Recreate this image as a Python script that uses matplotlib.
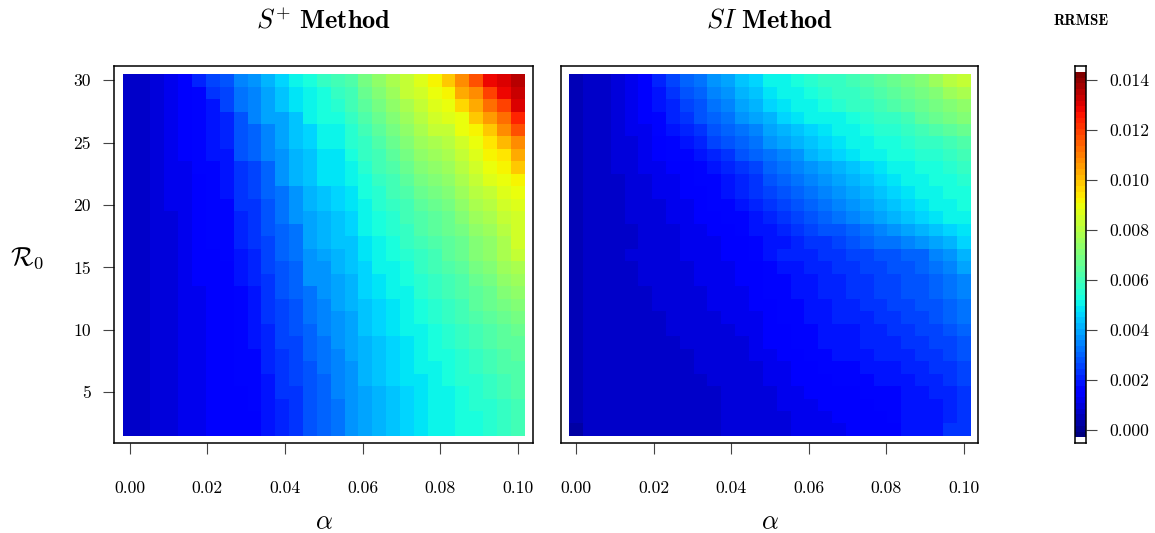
"""
RRMSE heat maps for the S+ and SI methods over (alpha, R0),
with a shared jet colour bar on the right.
"""

import numpy as np
import matplotlib
matplotlib.use('Agg')
import matplotlib.pyplot as plt
from matplotlib.colors import Normalize

plt.rcParams['mathtext.fontset'] = 'cm'
plt.rcParams['font.family'] = 'cmr10'
plt.rcParams['axes.formatter.use_mathtext'] = True

# grid
alpha = [0.0000, 0.0036, 0.0071, 0.0107, 0.0143, 0.0179, 0.0214, 0.0250,
         0.0286, 0.0321, 0.0357, 0.0393, 0.0429, 0.0464, 0.0500, 0.0536,
         0.0571, 0.0607, 0.0643, 0.0679, 0.0714, 0.0750, 0.0786, 0.0821,
         0.0857, 0.0893, 0.0929, 0.0964, 0.1000]
r0 = list(range(30, 1, -1))          # rows below go from R0 = 30 down to R0 = 2

# RRMSE x 1e4, S+ method (one row per R0, one column per alpha)
rrmse_splus = [
    [7, 7, 10, 12, 14, 21, 25, 28, 35, 37, 41, 46, 51, 53, 57, 60, 62, 69, 73, 78, 83, 87, 92, 98, 108, 117, 128, 130, 135],
    [7, 7, 10, 12, 14, 16, 23, 25, 32, 35, 39, 44, 48, 51, 53, 57, 60, 67, 71, 76, 83, 85, 89, 92, 103, 108, 119, 128, 133],
    [7, 7, 10, 12, 14, 16, 19, 25, 32, 35, 39, 44, 48, 51, 53, 55, 60, 64, 69, 73, 78, 83, 87, 89, 96, 103, 112, 119, 130],
    [7, 7, 10, 12, 14, 16, 19, 21, 28, 35, 39, 39, 44, 51, 53, 53, 57, 62, 67, 71, 76, 80, 85, 87, 89, 98, 105, 112, 124],
    [7, 7, 10, 12, 14, 16, 19, 21, 28, 30, 35, 39, 44, 46, 51, 51, 55, 60, 64, 69, 73, 78, 83, 83, 89, 92, 98, 108, 117],
    [7, 7, 10, 12, 14, 16, 19, 21, 28, 30, 35, 39, 44, 46, 51, 51, 55, 57, 62, 67, 71, 76, 78, 80, 85, 89, 94, 101, 108],
    [7, 7, 10, 12, 14, 16, 19, 19, 28, 30, 35, 37, 41, 44, 48, 48, 53, 57, 60, 64, 69, 73, 76, 78, 83, 87, 92, 94, 103],
    [7, 7, 10, 12, 12, 16, 16, 19, 23, 25, 30, 37, 41, 44, 48, 48, 51, 55, 60, 62, 67, 71, 73, 76, 80, 85, 89, 92, 98],
    [7, 7, 10, 12, 12, 14, 16, 19, 23, 25, 30, 37, 41, 44, 48, 48, 51, 53, 57, 60, 64, 69, 71, 73, 78, 83, 87, 89, 92],
    [7, 7, 10, 12, 12, 14, 16, 19, 23, 25, 30, 32, 37, 41, 44, 46, 48, 53, 55, 60, 62, 67, 69, 71, 76, 80, 83, 87, 89],
    [7, 7, 10, 12, 12, 14, 16, 16, 23, 23, 28, 32, 37, 41, 44, 46, 48, 51, 55, 57, 60, 64, 67, 69, 73, 78, 80, 85, 87],
    [7, 7, 10, 10, 12, 14, 16, 16, 21, 23, 28, 32, 37, 39, 41, 44, 46, 51, 53, 55, 60, 62, 64, 67, 71, 76, 78, 83, 85],
    [7, 7, 10, 10, 12, 14, 16, 16, 21, 23, 28, 30, 32, 39, 41, 44, 46, 51, 53, 55, 57, 62, 64, 67, 69, 73, 76, 80, 85],
    [7, 7, 10, 10, 12, 14, 16, 16, 21, 23, 25, 30, 32, 39, 41, 44, 44, 48, 51, 53, 57, 60, 62, 64, 67, 71, 73, 78, 85],
    [7, 7, 10, 10, 12, 14, 14, 16, 19, 21, 25, 30, 32, 37, 39, 41, 44, 48, 51, 53, 55, 57, 60, 64, 67, 71, 73, 78, 83],
    [7, 7, 10, 10, 12, 14, 14, 14, 19, 21, 25, 28, 30, 37, 37, 41, 44, 46, 51, 51, 53, 57, 60, 62, 64, 69, 71, 76, 78],
    [7, 7, 10, 10, 12, 14, 14, 14, 19, 21, 23, 28, 30, 37, 37, 39, 41, 46, 48, 51, 53, 55, 57, 60, 62, 67, 69, 73, 76],
    [7, 7, 10, 10, 12, 12, 14, 14, 16, 19, 23, 28, 30, 32, 37, 39, 41, 46, 48, 51, 51, 55, 57, 60, 62, 64, 67, 71, 73],
    [7, 7, 10, 10, 12, 12, 14, 14, 16, 19, 23, 25, 28, 32, 35, 39, 41, 44, 46, 48, 51, 53, 55, 57, 60, 64, 67, 69, 71],
    [7, 7, 10, 10, 12, 12, 14, 14, 16, 19, 23, 25, 28, 32, 35, 37, 39, 44, 46, 48, 51, 53, 55, 57, 60, 62, 64, 67, 69],
    [7, 7, 10, 10, 12, 12, 14, 14, 16, 19, 21, 25, 28, 30, 35, 37, 39, 44, 46, 48, 51, 51, 53, 55, 57, 60, 62, 64, 67],
    [7, 7, 10, 10, 12, 12, 14, 14, 16, 19, 21, 25, 25, 30, 32, 37, 39, 41, 44, 46, 48, 51, 53, 55, 57, 60, 62, 64, 64],
    [7, 7, 10, 10, 12, 12, 14, 14, 16, 16, 21, 23, 25, 30, 32, 35, 39, 41, 44, 46, 48, 51, 53, 53, 55, 57, 60, 62, 64],
    [7, 7, 10, 10, 12, 12, 14, 14, 16, 16, 21, 23, 25, 28, 32, 35, 37, 41, 44, 46, 48, 51, 51, 53, 55, 57, 60, 62, 62],
    [7, 7, 10, 10, 12, 12, 14, 14, 16, 16, 19, 23, 25, 28, 30, 35, 37, 41, 44, 46, 48, 48, 51, 53, 55, 55, 57, 60, 62],
    [7, 7, 10, 10, 12, 12, 14, 14, 14, 16, 19, 23, 23, 28, 30, 35, 37, 39, 41, 44, 46, 48, 51, 51, 53, 55, 57, 60, 62],
    [7, 7, 10, 10, 12, 12, 14, 14, 14, 16, 19, 21, 23, 28, 30, 32, 37, 39, 41, 44, 46, 48, 51, 51, 53, 55, 55, 57, 60],
    [7, 7, 10, 10, 12, 12, 14, 14, 14, 14, 19, 21, 23, 28, 30, 32, 37, 39, 41, 44, 46, 48, 51, 51, 53, 53, 55, 57, 60],
    [7, 7, 10, 10, 12, 12, 14, 14, 14, 14, 19, 21, 23, 28, 30, 32, 37, 39, 41, 44, 46, 48, 51, 51, 53, 53, 55, 57, 60],
]

# RRMSE x 1e4, SI method
rrmse_si = [
    [5, 7, 7, 10, 12, 14, 21, 25, 30, 32, 37, 39, 44, 46, 51, 51, 53, 55, 57, 57, 60, 62, 64, 67, 69, 71, 76, 80, 83],
    [5, 7, 7, 10, 12, 14, 19, 23, 28, 30, 35, 37, 41, 44, 48, 51, 51, 53, 55, 57, 57, 60, 62, 64, 67, 69, 71, 76, 78],
    [5, 7, 7, 10, 12, 14, 19, 21, 25, 28, 32, 35, 39, 41, 46, 48, 51, 51, 53, 55, 57, 57, 60, 62, 64, 67, 69, 71, 73],
    [5, 7, 7, 10, 12, 14, 16, 21, 23, 28, 30, 32, 37, 39, 41, 46, 48, 51, 51, 51, 53, 55, 57, 57, 60, 64, 67, 69, 71],
    [5, 7, 7, 10, 12, 12, 16, 19, 21, 23, 28, 30, 32, 35, 39, 41, 44, 46, 48, 51, 51, 53, 55, 55, 57, 60, 62, 64, 67],
    [5, 7, 7, 10, 10, 12, 14, 16, 19, 21, 25, 28, 30, 32, 37, 39, 41, 44, 46, 48, 51, 51, 53, 53, 55, 57, 57, 60, 62],
    [5, 7, 7, 10, 10, 12, 14, 16, 16, 19, 21, 23, 28, 30, 32, 35, 37, 41, 44, 46, 48, 51, 51, 53, 53, 55, 55, 57, 60],
    [5, 7, 7, 10, 10, 12, 12, 14, 14, 16, 19, 21, 23, 25, 30, 32, 35, 37, 39, 41, 44, 46, 48, 51, 51, 53, 53, 55, 57],
    [5, 7, 7, 7, 10, 10, 12, 12, 14, 16, 16, 19, 21, 23, 28, 30, 32, 35, 37, 39, 41, 44, 46, 48, 51, 51, 53, 53, 55],
    [5, 7, 7, 7, 10, 10, 12, 12, 14, 14, 16, 19, 21, 23, 25, 28, 30, 32, 35, 37, 39, 41, 44, 46, 48, 51, 51, 53, 53],
    [5, 7, 7, 7, 10, 10, 10, 12, 12, 14, 16, 16, 19, 21, 23, 25, 28, 30, 32, 35, 37, 39, 41, 44, 46, 48, 51, 51, 53],
    [5, 7, 7, 7, 10, 10, 10, 12, 12, 14, 14, 16, 16, 19, 21, 23, 25, 28, 30, 32, 35, 37, 39, 41, 44, 46, 48, 51, 51],
    [5, 7, 7, 7, 7, 10, 10, 10, 12, 12, 14, 14, 16, 19, 19, 21, 23, 25, 28, 28, 30, 32, 35, 37, 39, 41, 44, 46, 48],
    [5, 7, 7, 7, 7, 10, 10, 10, 12, 12, 12, 14, 14, 16, 19, 19, 21, 23, 23, 25, 28, 30, 32, 32, 35, 37, 39, 41, 46],
    [5, 7, 7, 7, 10, 10, 10, 10, 12, 12, 12, 14, 14, 16, 19, 21, 21, 21, 23, 23, 25, 25, 28, 28, 30, 30, 35, 37, 41],
    [5, 7, 7, 7, 7, 10, 10, 10, 10, 12, 12, 12, 14, 14, 16, 19, 19, 21, 21, 23, 23, 25, 25, 28, 28, 30, 32, 35, 39],
    [5, 7, 7, 7, 7, 10, 10, 10, 10, 12, 12, 12, 14, 14, 16, 16, 19, 19, 21, 21, 23, 23, 25, 25, 28, 28, 30, 32, 35],
    [5, 7, 7, 7, 7, 7, 10, 10, 10, 10, 12, 12, 12, 14, 16, 16, 19, 19, 21, 21, 23, 23, 25, 25, 28, 28, 30, 32, 35],
    [5, 7, 7, 7, 7, 7, 10, 10, 10, 10, 12, 12, 12, 14, 14, 16, 16, 19, 19, 21, 21, 23, 23, 25, 25, 28, 28, 30, 32],
    [5, 7, 7, 7, 7, 7, 7, 10, 10, 10, 10, 12, 12, 12, 14, 16, 16, 19, 19, 21, 21, 21, 23, 23, 25, 25, 28, 30, 32],
    [5, 7, 7, 7, 7, 7, 7, 10, 10, 10, 10, 10, 12, 12, 14, 14, 16, 16, 19, 19, 19, 21, 21, 23, 23, 25, 25, 28, 30],
    [5, 7, 7, 7, 7, 7, 7, 7, 10, 10, 10, 10, 10, 12, 14, 14, 16, 16, 19, 19, 19, 21, 21, 21, 23, 23, 25, 25, 28],
    [5, 7, 7, 7, 7, 7, 7, 7, 7, 10, 10, 10, 10, 12, 12, 14, 14, 16, 16, 19, 19, 19, 21, 21, 21, 23, 23, 25, 28],
    [5, 7, 7, 7, 7, 7, 7, 7, 7, 10, 10, 10, 10, 10, 12, 12, 14, 14, 16, 16, 16, 19, 19, 19, 21, 21, 23, 23, 25],
    [5, 7, 7, 7, 7, 7, 7, 7, 7, 7, 10, 10, 10, 10, 12, 12, 14, 14, 14, 16, 16, 16, 19, 19, 19, 21, 21, 23, 25],
    [5, 7, 7, 7, 7, 7, 7, 7, 7, 7, 7, 10, 10, 10, 10, 12, 12, 14, 14, 14, 14, 16, 16, 16, 19, 19, 21, 21, 23],
    [5, 7, 7, 7, 7, 7, 7, 7, 7, 7, 7, 10, 10, 10, 10, 12, 12, 12, 14, 14, 14, 14, 16, 16, 19, 19, 19, 21, 23],
    [5, 7, 7, 7, 7, 7, 7, 7, 7, 7, 7, 10, 10, 10, 10, 10, 12, 12, 12, 14, 14, 14, 14, 16, 19, 19, 19, 21, 23],
    [3, 7, 7, 7, 7, 7, 7, 7, 7, 7, 7, 10, 10, 10, 10, 10, 12, 12, 12, 12, 14, 14, 14, 14, 19, 19, 19, 23, 23],
]

panel_titles = [r'$S^{+}\ \mathbf{Method}$', r'$SI\ \mathbf{Method}$']
alpha_ticks = [0.00, 0.02, 0.04, 0.06, 0.08, 0.10]
r0_ticks = [5, 10, 15, 20, 25, 30]
cbar_ticks = [0.000, 0.002, 0.004, 0.006, 0.008, 0.010, 0.012, 0.014]
zmin, zmax = -0.0003, 0.0143

W, H = 1155, 533
TICK_FS = 12.7

cmap = plt.get_cmap('jet', 64)
norm = Normalize(vmin=zmin, vmax=zmax)

fig = plt.figure(figsize=(W / 100, H / 100), dpi=100)


def px_axes(x0, y0, x1, y1):
    """Add axes given by pixel box (left, top, right, bottom)."""
    return fig.add_axes([x0 / W, 1 - y1 / H, (x1 - x0) / W, (y1 - y0) / H])


ax_left = px_axes(114.3, 66, 532.7, 443.3)
ax_right = px_axes(560.7, 66, 978.3, 443.3)
cax = px_axes(1075, 66, 1086, 443.3)

r0_up = r0[::-1]
for ax, data, title in [(ax_left, rrmse_splus, panel_titles[0]),
                        (ax_right, rrmse_si, panel_titles[1])]:
    z = np.array(data, dtype=float)[::-1] * 1e-4
    ax.pcolormesh(alpha, r0_up, z, cmap=cmap, norm=norm, shading='nearest')
    ax.set_xlim(-0.00397, 0.10379)
    ax.set_ylim(0.913, 31.146)
    ax.set_xticks(alpha_ticks)
    ax.set_xticklabels([f'{t:.2f}' for t in alpha_ticks])
    ax.tick_params(axis='x', length=8, width=0.8, color='#444444',
                   pad=19, labelsize=TICK_FS)
    for s in ax.spines.values():
        s.set_linewidth(1.1)

    # titles and x label as figure text, centred on the panel
    box = ax.get_position()
    xc = (box.x0 + box.x1) / 2
    fig.text(xc, 1 - 21 / H, title, ha='center', va='center', fontsize=19)
    fig.text(xc, 1 - 522 / H, r'$\alpha$', ha='center', va='center', fontsize=19)

ax_left.set_yticks(r0_ticks)
ax_left.set_yticklabels([str(t) for t in r0_ticks])
ax_left.tick_params(axis='y', length=8, width=0.8, color='#444444',
                    pad=9, labelsize=TICK_FS)
ax_right.set_yticks([])

fig.text(27 / W, 1 - 258 / H, r'$\mathcal{R}_0$', ha='center', va='center',
         fontsize=19)

# colour bar: 64 bands inside a slightly larger frame
band_edges = np.linspace(zmin, zmax, 65)
band_mid = (band_edges[:-1] + band_edges[1:]) / 2
cax.pcolormesh([0, 1], band_edges, band_mid.reshape(-1, 1),
               cmap=cmap, norm=norm, shading='flat')
cax.set_xlim(0, 1)
cax.set_ylim(-0.00054, 0.01454)
cax.set_xticks([])
cax.yaxis.tick_right()
cax.set_yticks(cbar_ticks)
cax.set_yticklabels([f'{t:.3f}' for t in cbar_ticks])
cax.tick_params(axis='y', length=8, width=0.8, color='#444444',
                pad=9, labelsize=TICK_FS)
for s in cax.spines.values():
    s.set_linewidth(1.1)

fig.text(1081.5 / W, 1 - 21 / H, 'RRMSE', ha='center', va='center',
         family='cmb10', fontsize=10.8)

fig.savefig('out.png', dpi=100)
plt.close(fig)
